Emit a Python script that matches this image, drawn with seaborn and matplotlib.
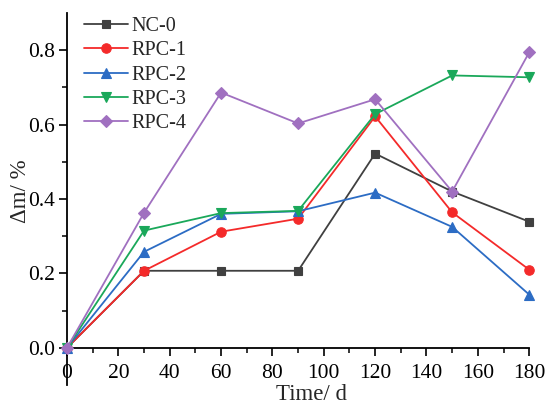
import numpy as np
import pandas as pd
import matplotlib
matplotlib.use("Agg")
import matplotlib.pyplot as plt
import seaborn as sns
from matplotlib.ticker import MultipleLocator

# Mass change over time for each mix
days = [0, 30, 60, 90, 120, 150, 180]
nc0 = [0.0, 0.207, 0.207, 0.207, 0.522, 0.420, 0.339]
rpc1 = [0.0, 0.207, 0.312, 0.347, 0.622, 0.364, 0.210]
rpc2 = [0.0, 0.258, 0.360, 0.367, 0.417, 0.325, 0.143]
rpc3 = [0.0, 0.315, 0.362, 0.368, 0.628, 0.732, 0.727]
rpc4 = [0.0, 0.363, 0.686, 0.603, 0.668, 0.420, 0.794]

series_names = ["NC-0", "RPC-1", "RPC-2", "RPC-3", "RPC-4"]
series_values = [nc0, rpc1, rpc2, rpc3, rpc4]
colors = ["#404040", "#f42a2a", "#2c6cc4", "#1aa85a", "#a070c0"]
markers = ["s", "o", "^", "v", "D"]
msizes = [5.5, 6.8, 7.5, 7.5, 6.5]

sns.set_theme(style="ticks")
plt.rcParams["font.family"] = ["Liberation Serif", "DejaVu Serif"]

fig = plt.figure(figsize=(5.45, 4.04), dpi=100)
ax = fig.add_axes([0.123, 0.047, 0.848, 0.921])

for name, vals, c, m, ms in zip(series_names, series_values, colors, markers, msizes):
    df = pd.DataFrame({"Time": days, "dm": vals})
    sns.lineplot(data=df, x="Time", y="dm", ax=ax, color=c, marker=m,
                 markersize=ms, markeredgecolor=c, markeredgewidth=0.8,
                 linewidth=1.3, label=name, clip_on=False, zorder=3)

ax.set_xlim(0, 180)
ax.set_ylim(-0.1, 0.9)
ax.spines["bottom"].set_position(("data", 0))
ax.spines["top"].set_visible(False)
ax.spines["right"].set_visible(False)
for s in ("left", "bottom"):
    ax.spines[s].set_linewidth(1.3)
    ax.spines[s].set_color("black")

ax.xaxis.set_major_locator(MultipleLocator(20))
ax.xaxis.set_minor_locator(MultipleLocator(10))
ax.set_yticks([0.0, 0.2, 0.4, 0.6, 0.8])
ax.set_yticks([0.1, 0.3, 0.5, 0.7], minor=True)
ax.set_yticklabels(["0.0", "0.2", "0.4", "0.6", "0.8"])
ax.tick_params(which="major", direction="out", length=5.5, width=1.2,
               labelsize=15.5, colors="black", pad=3)
ax.tick_params(which="minor", direction="out", length=3.5, width=1.1,
               colors="black")
ax.tick_params(axis="x", which="major", pad=6)

ax.set_xlabel("Time/ d", fontsize=16.5)
ax.set_ylabel("Δm/ %", fontsize=16.5)
ax.xaxis.set_label_coords(0.528, 0.003)
ax.yaxis.set_label_coords(-0.078, 0.52)

leg = ax.legend(loc="upper left", bbox_to_anchor=(0.011, 1.021), frameon=False,
                fontsize=14.5, handlelength=2.15, handletextpad=0.2,
                labelspacing=0.25, borderaxespad=0.2)

fig.savefig("out.png", dpi=100, facecolor="white")
